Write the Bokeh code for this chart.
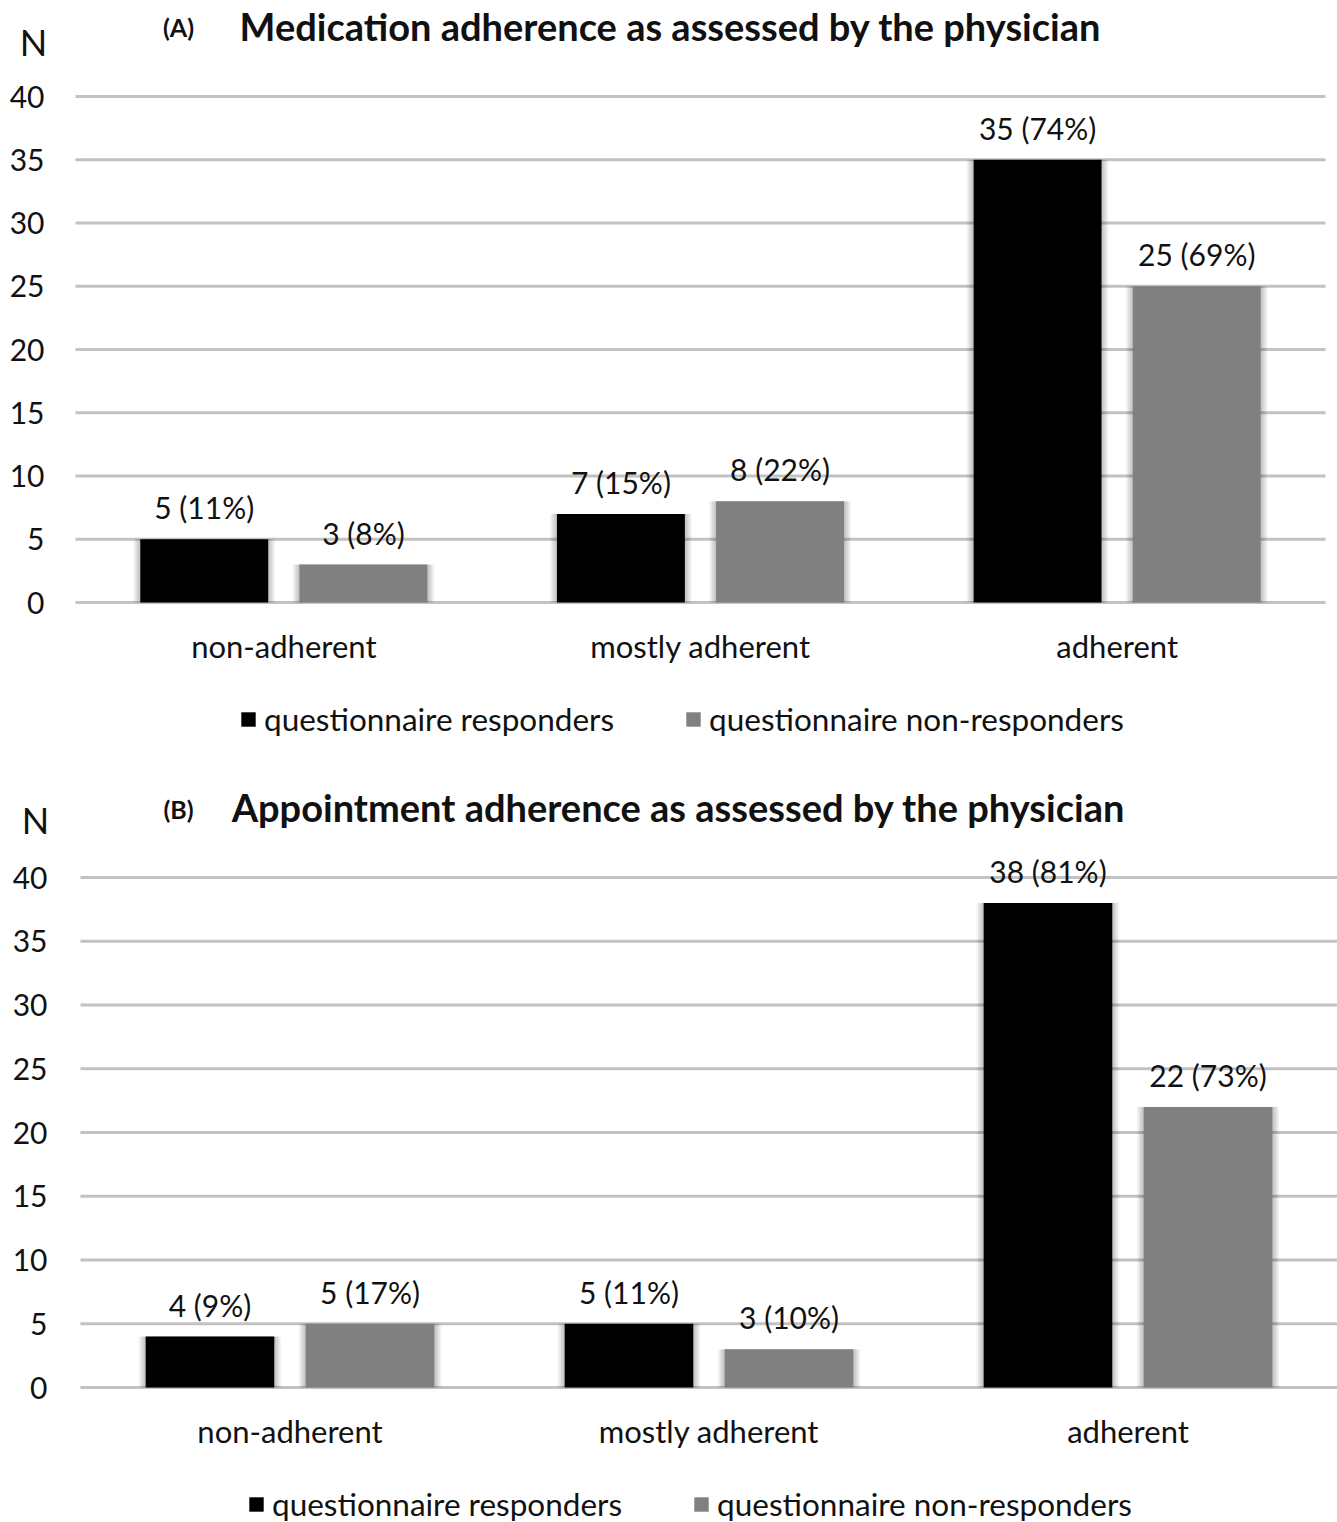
from bokeh.plotting import figure
from bokeh.models import Range1d, Legend, LegendItem, ColumnDataSource
from bokeh.core.properties import value
from bokeh.layouts import column
from bokeh.embed import file_html
from bokeh.resources import INLINE

# ---- data ---------------------------------------------------------------
categories = ["non-adherent", "mostly adherent", "adherent"]
series_names = ["questionnaire responders", "questionnaire non-responders"]

med_responders = [5, 7, 35]
med_responders_pct = [11, 15, 74]
med_nonresponders = [3, 8, 25]
med_nonresponders_pct = [8, 22, 69]

app_responders = [4, 5, 38]
app_responders_pct = [9, 11, 81]
app_nonresponders = [5, 3, 22]
app_nonresponders_pct = [17, 10, 73]

y_ticks = [0, 5, 10, 15, 20, 25, 30, 35, 40]
y_tick_labels = [str(t) for t in y_ticks]

# ---- styling ------------------------------------------------------------
FONT = "Lato"
TEXT = "#111111"
BLACK = "#000000"
GRAY = "#808080"
GRID = "#c2c2c2"
BAR_W = 0.307
OFFSET = 0.191
FIG_W, FIG_H = 1337, 761


def panel(letter, title, resp, resp_pct, nonresp, nonresp_pct, geo):
    # plot area: categories occupy slots [0, 3), values 0..40; the frame is
    # the whole canvas so that headings and the legend can sit around it
    slot_px, unit_px = geo["slot_px"], geo["unit_px"]
    left, top0, bottom0 = geo["left"], geo["top"], geo["bottom"]
    x_range = Range1d(-left / slot_px, (FIG_W - left) / slot_px)
    y_range = Range1d(-(FIG_H - bottom0) / unit_px, 40 + top0 / unit_px)

    p = figure(width=FIG_W, height=FIG_H, x_range=x_range, y_range=y_range,
               x_axis_type=None, y_axis_type=None,
               output_backend="svg", toolbar_location=None,
               min_border=0, min_border_left=0, min_border_right=0,
               min_border_top=0, min_border_bottom=0)
    p.outline_line_color = None
    p.background_fill_color = "white"
    p.border_fill_color = "white"

    n_cat = len(categories)
    centers = [i + 0.5 for i in range(n_cat)]

    # horizontal gridlines across the category slots, value labels at left
    ticks = ColumnDataSource(dict(y=y_ticks, lab=y_tick_labels))
    p.segment(x0=0, x1=n_cat, y0="y", y1="y", source=ticks,
              line_color=GRID, line_width=3)
    p.text(x=0, y="y", text="lab", source=ticks, x_offset=-geo["ystand"],
           text_font=value(FONT), text_font_size="30px", text_color=TEXT,
           text_align="right", text_baseline="middle")

    # category names under the zero line
    p.text(x=centers, y=[0] * n_cat, text=categories, y_offset=43,
           text_font=value(FONT), text_font_size="31px", text_color=TEXT,
           text_align="center", text_baseline="middle")

    src = ColumnDataSource(dict(
        resp=resp, nonresp=nonresp,
        resp_x=[c - OFFSET for c in centers],
        nonresp_x=[c + OFFSET for c in centers],
        resp_lab=[f"{v} ({q}%)" for v, q in zip(resp, resp_pct)],
        nonresp_lab=[f"{v} ({q}%)" for v, q in zip(nonresp, nonresp_pct)],
    ))

    renderers = []
    for col, color in (("resp", BLACK), ("nonresp", GRAY)):
        # soft shadow fading out on both sides of each bar
        for spread in (7, 6, 5, 4, 3, 2, 1):
            p.vbar(x=col + "_x", top=col, bottom=0, source=src,
                   width=BAR_W + 2 * spread / slot_px,
                   fill_color="black", fill_alpha=0.035, line_color=None)
        r = p.vbar(x=col + "_x", top=col, bottom=0, source=src, width=BAR_W,
                   fill_color=color, line_color=None)
        renderers.append(r)
        p.text(x=col + "_x", y=col, text=col + "_lab", source=src,
               text_font=value(FONT), text_font_size="30px",
               text_color=TEXT, text_align="center",
               text_baseline="middle", y_offset=-32)

    # headings, placed by pixel offsets from the top-left of the plot area
    p.text(x=[0], y=[40], text=[title], x_offset=geo["title_dx"],
           y_offset=geo["title_dy"], text_font=value(FONT),
           text_font_style="bold", text_font_size="38px", text_color=TEXT,
           text_align="center", text_baseline="middle")
    p.text(x=[0], y=[40], text=[letter], x_offset=geo["letter_dx"],
           y_offset=geo["letter_dy"], text_font=value(FONT),
           text_font_style="bold", text_font_size="25px", text_color=TEXT,
           text_align="center", text_baseline="middle")
    p.text(x=[0], y=[40], text=["N"], x_offset=geo["n_dx"],
           y_offset=geo["n_dy"], text_font=value(FONT),
           text_font_size="36px", text_color=TEXT,
           text_align="center", text_baseline="middle")

    legend = Legend(items=[LegendItem(label=series_names[0], renderers=[renderers[0]]),
                           LegendItem(label=series_names[1], renderers=[renderers[1]])],
                    location=geo["legend_loc"], orientation="horizontal",
                    label_text_font=FONT, label_text_font_size="31.5px",
                    label_text_color=TEXT, label_height=30,
                    glyph_width=18, glyph_height=18, label_standoff=7,
                    spacing=70, padding=0, margin=0,
                    border_line_color=None, background_fill_alpha=0)
    p.add_layout(legend)
    return p


geo_a = dict(left=75, top=96, bottom=602, slot_px=416.67, unit_px=12.65,
             ystand=31, title_dx=595, title_dy=-71, letter_dx=103,
             letter_dy=-70, n_dx=-42, n_dy=-55, legend_loc=(239, 23))
geo_b = dict(left=80, top=116, bottom=626, slot_px=419.0, unit_px=12.75,
             ystand=33, title_dx=598, title_dy=-71, letter_dx=98,
             letter_dy=-69, n_dx=-45, n_dy=-58, legend_loc=(247, -1))

fig_a = panel("(A)", "Medication adherence as assessed by the physician",
              med_responders, med_responders_pct,
              med_nonresponders, med_nonresponders_pct, geo_a)
fig_b = panel("(B)", "Appointment adherence as assessed by the physician",
              app_responders, app_responders_pct,
              app_nonresponders, app_nonresponders_pct, geo_b)

page = column(fig_a, fig_b, spacing=0)
open("out.html", "w").write(file_html(page, INLINE))
